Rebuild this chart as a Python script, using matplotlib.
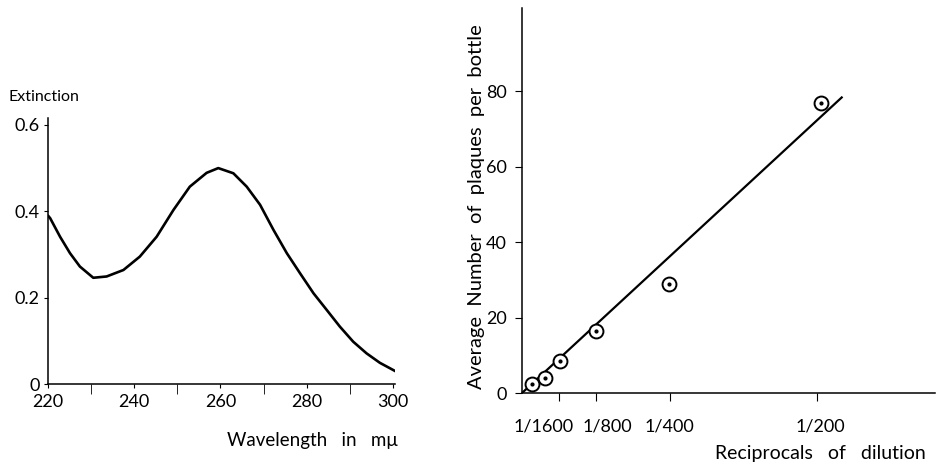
import numpy as np
import matplotlib.pyplot as plt
import matplotlib.transforms as mtransforms
from matplotlib.ticker import MultipleLocator

plt.rcParams['font.family'] = ['Lato', 'DejaVu Sans']

# absorption spectrum (left)
wavelength = [220, 220.5, 222.8, 225.1, 227.4, 230.5, 233.6, 237.5, 241.3, 245.2,
              249.1, 252.9, 256.8, 259.5, 263.0, 266.1, 269.2, 272.3, 275.4, 278.5,
              281.6, 284.7, 287.7, 290.8, 293.9, 297.0, 300.9]
extinction = [0.39, 0.384, 0.341, 0.303, 0.272, 0.246, 0.249, 0.264, 0.295, 0.341,
              0.403, 0.457, 0.489, 0.500, 0.488, 0.457, 0.415, 0.357, 0.303, 0.256,
              0.210, 0.171, 0.133, 0.098, 0.071, 0.049, 0.028]

# plaque counts (right), x in units of 1/1600
dilution_x = [0.26, 0.62, 1.03, 2.02, 3.98, 8.1]
plaques = [2.4, 4.05, 8.6, 16.4, 29, 76.7]
fit_x = [0, 8.67]
fit_y = [0, 78.3]
dil_ticks = [1, 2, 4, 8]
dil_labels = ['1/1600', '1/800', '1/400', '1/200']

fig = plt.figure(figsize=(9.36, 4.73), dpi=100)

# left panel
ax1 = fig.add_axes([48/936, 1-384/473, (395-48)/936, (384-118)/473])
ax1.plot(wavelength, extinction, color='black', lw=1.9,
         solid_capstyle='round', solid_joinstyle='round')
ax1.set_xlim(220, 300.5)
ax1.set_ylim(0, 0.616)
ax1.spines['top'].set_visible(False)
ax1.spines['right'].set_visible(False)
ax1.xaxis.set_major_locator(MultipleLocator(20))
ax1.xaxis.set_minor_locator(MultipleLocator(10))
ax1.set_yticks([0, 0.2, 0.4, 0.6])
ax1.set_yticklabels(['0', '0.2', '0.4', '0.6'])
ax1.tick_params(axis='x', which='major', length=3, pad=4, labelsize=13)
ax1.tick_params(axis='x', which='minor', length=7)
ax1.tick_params(axis='y', length=3, pad=3, labelsize=13)
fig.text(8/936, 1-97/473, 'Extinction', fontsize=11.5, va='center', ha='left')
fig.text(312/936, 1-440/473, 'Wavelength   in   m\u03bc', fontsize=13.5, va='center', ha='center')

# right panel
ax2 = fig.add_axes([522/936, 1-393/473, (935-522)/936, (393-8)/473])
ax2.plot(fit_x, fit_y, color='black', lw=1.6)
ax2.plot(dilution_x, plaques, 'o', ms=10, mfc='white', mec='black', mew=1.4)
ax2.plot(dilution_x, plaques, '.', ms=4, color='black')
ax2.set_xlim(0, 11.2)
ax2.set_ylim(0, 102)
ax2.spines['top'].set_visible(False)
ax2.spines['right'].set_visible(False)
ax2.set_xticks(dil_ticks)
ax2.set_xticklabels(dil_labels)
ax2.set_yticks([0, 20, 40, 60, 80])
ax2.tick_params(axis='x', length=6, pad=12, labelsize=13)
ax2.tick_params(axis='y', length=5, pad=6, labelsize=13)
# nudge the crowded dilution labels apart like the original
for lab, dx in zip(ax2.get_xticklabels(), [-15, 12, 0, 3]):
    lab.set_transform(lab.get_transform() +
                      mtransforms.ScaledTranslation(dx/100, 0, fig.dpi_scale_trans))
fig.text(477/936, 1-207/473, 'Average  Number  of  plaques  per  bottle', fontsize=14.5,
         rotation=90, va='center', ha='center')
fig.text(820/936, 1-453/473, 'Reciprocals   of   dilution', fontsize=14, va='center', ha='center')

for ax in (ax1, ax2):
    for s in ('left', 'bottom'):
        ax.spines[s].set_linewidth(1.1)

fig.savefig('out.png', dpi=100)
